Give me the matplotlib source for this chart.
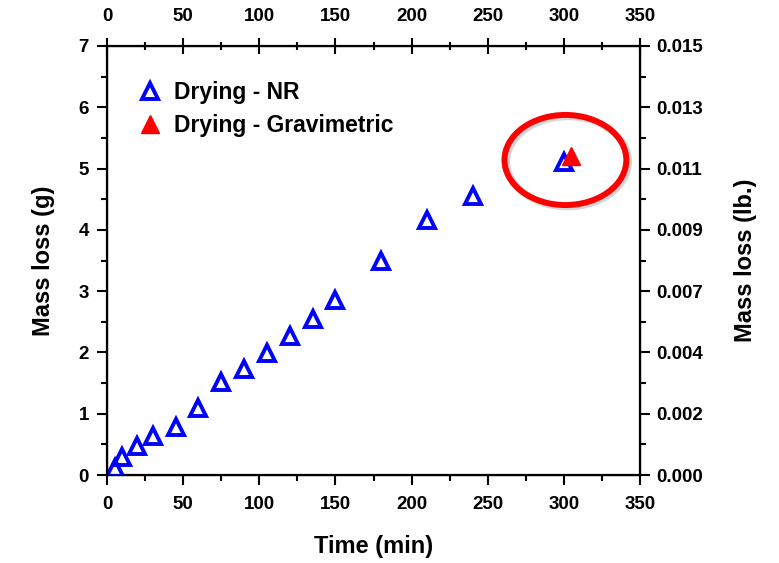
import matplotlib.pyplot as plt
from matplotlib.patches import Ellipse
from matplotlib.ticker import MultipleLocator, FixedLocator, FixedFormatter

plt.rcParams['font.family'] = ['Liberation Sans', 'DejaVu Sans']
plt.rcParams['font.weight'] = 'bold'

# datos
t_nr = [5, 10, 20, 30, 45, 60, 75, 90, 105, 120, 135, 150, 180, 210, 240, 300]
m_nr = [0.11, 0.29, 0.48, 0.63, 0.78, 1.10, 1.51, 1.73, 1.99, 2.27, 2.54, 2.86, 3.50, 4.16, 4.55, 5.11]
t_grav = [305]
m_grav = [5.21]

g_to_lb = 0.00220462
y_ticks = [0, 1, 2, 3, 4, 5, 6, 7]
lb_labels = ['%.3f' % (v * g_to_lb) for v in y_ticks]

fig = plt.figure(figsize=(7.79, 5.63), dpi=100)
ax = fig.add_axes([0.1374, 0.1563, 0.6842, 0.762])

ax.plot(t_nr, m_nr, linestyle='none', marker='^', markersize=11.5,
        markerfacecolor='none', markeredgecolor='blue', markeredgewidth=2.8,
        label='Drying - NR', zorder=3)
ax.plot(t_grav, m_grav, linestyle='none', marker='^', markersize=12.5,
        color='red', markeredgecolor='red', label='Drying - Gravimetric', zorder=4)

# circulo rojo con sombra
ax.add_patch(Ellipse((302.5, 5.11), 80, 1.47, fill=False, edgecolor='#bbbbbb',
                     linewidth=5, alpha=0.6, zorder=1))
ax.add_patch(Ellipse((301, 5.14), 80, 1.47, fill=False, edgecolor='red',
                     linewidth=4.3, zorder=2))

ax.set_xlim(0, 350)
ax.set_ylim(0, 7)
ax.xaxis.set_major_locator(MultipleLocator(50))
ax.xaxis.set_minor_locator(MultipleLocator(25))
ax.yaxis.set_major_locator(MultipleLocator(1))
ax.yaxis.set_minor_locator(MultipleLocator(0.5))

ax.tick_params(which='both', direction='out', width=1.5, labelsize=13.5,
               top=False, right=False)
ax.tick_params(which='major', length=7)
ax.tick_params(which='minor', length=4)
ax.tick_params(axis='x', which='major', pad=8)
ax.tick_params(axis='y', which='major', pad=6)
for s in ax.spines.values():
    s.set_linewidth(1.6)

ax.set_xlabel('Time (min)', fontsize=17, fontweight='bold', labelpad=16)
ax.set_ylabel('Mass loss (g)', fontsize=17, fontweight='bold', labelpad=17)

# eje superior
axt = ax.twiny()
axt.set_xlim(0, 350)
axt.xaxis.set_major_locator(MultipleLocator(50))
axt.xaxis.set_minor_locator(MultipleLocator(25))
axt.tick_params(which='both', direction='inout', width=1.5, labelsize=13.5)
axt.tick_params(which='major', length=12, pad=9)
axt.tick_params(which='minor', length=6)

# eje derecho en libras
axr = ax.twinx()
axr.set_ylim(0, 7)
axr.yaxis.set_major_locator(FixedLocator(y_ticks))
axr.yaxis.set_major_formatter(FixedFormatter(lb_labels))
axr.yaxis.set_minor_locator(MultipleLocator(0.5))
axr.tick_params(which='both', direction='out', width=1.5, labelsize=13.5)
axr.tick_params(which='major', length=7, pad=5)
axr.tick_params(which='minor', length=4)
axr.set_ylabel('Mass loss (lb.)', fontsize=17, fontweight='bold', labelpad=22)

for a in (ax, axt, axr):
    for lab in a.get_xticklabels() + a.get_yticklabels():
        lab.set_fontweight('bold')

ax.legend(loc='upper left', frameon=False, fontsize=16.5, handletextpad=0.4,
          handlelength=1.3, borderaxespad=0.0, labelspacing=0.45,
          bbox_to_anchor=(0.035, 0.94))

fig.savefig('out.png', dpi=100)
